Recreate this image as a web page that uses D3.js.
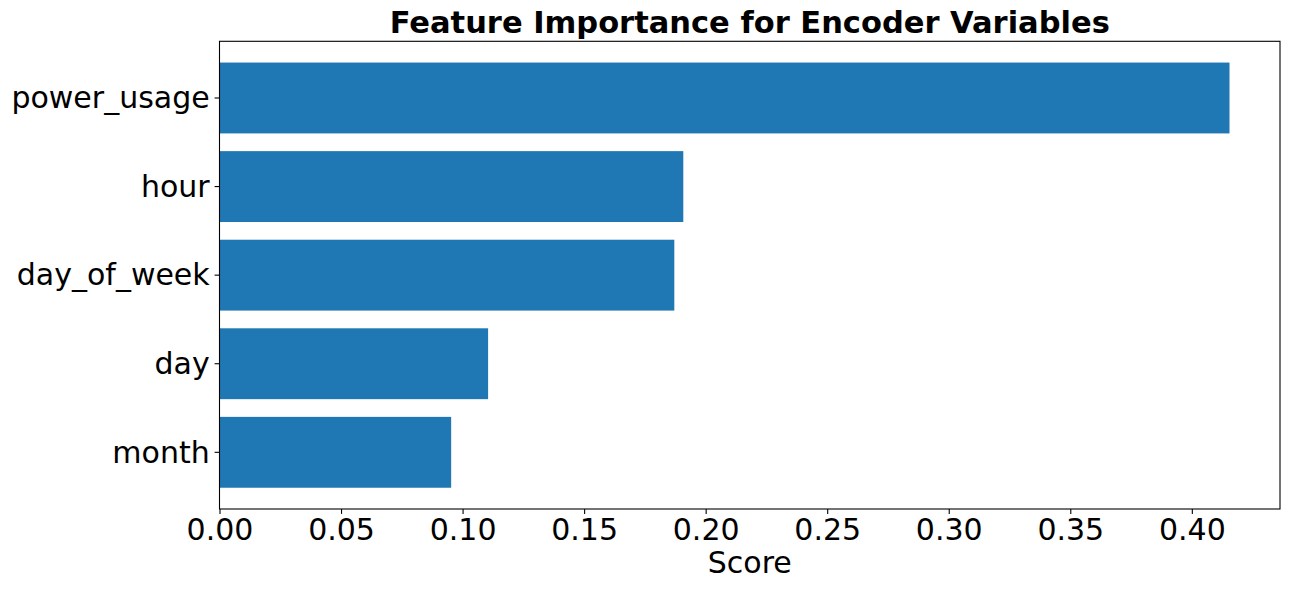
<!DOCTYPE html>
<html>
<head>
<meta charset="utf-8">
<script src="https://cdn.jsdelivr.net/npm/d3@7"></script>
<style>
  html, body { margin: 0; padding: 0; background: #fff; }
  text { font-family: "DejaVu Sans", sans-serif; fill: #000; }
</style>
</head>
<body>
<svg id="chart" width="1289" height="590"></svg>
<script>
const categories = ["power_usage", "hour", "day_of_week", "day", "month"];
const scores = [0.4155, 0.1908, 0.1871, 0.1105, 0.0953];
const xTicks = [0.00, 0.05, 0.10, 0.15, 0.20, 0.25, 0.30, 0.35, 0.40];
const titleText = "Feature Importance for Encoder Variables";
const xLabel = "Score";

const W = 1289, H = 590;
const margin = { left: 219.5, right: 9, top: 41.3, bottom: 81 };
const svg = d3.select("#chart");

const xMax = d3.max(scores) * 1.05;
const x = d3.scaleLinear().domain([0, xMax]).range([margin.left, W - margin.right]);
const y = d3.scaleBand().domain(categories)
  .range([margin.top, H - margin.bottom])
  .paddingInner(0.2).paddingOuter(0.24);

// bars
svg.append("g").selectAll("rect")
  .data(categories)
  .join("rect")
  .attr("x", x(0))
  .attr("y", d => y(d))
  .attr("width", (d, i) => x(scores[i]) - x(0))
  .attr("height", y.bandwidth())
  .attr("fill", "#1f77b4");

// x axis
const xAxis = svg.append("g")
  .attr("transform", `translate(0,${H - margin.bottom})`)
  .call(d3.axisBottom(x).tickValues(xTicks).tickFormat(d3.format(".2f")).tickSize(4.9).tickPadding(4.9));
xAxis.select(".domain").remove();
xAxis.selectAll("line").attr("stroke", "#000").attr("stroke-width", 1.1);
xAxis.selectAll("text").attr("font-size", 30).attr("font-family", "DejaVu Sans").attr("fill", "#000");

// y axis
const yAxis = svg.append("g")
  .attr("transform", `translate(${margin.left},0)`)
  .call(d3.axisLeft(y).tickSize(4.9).tickPadding(4.9));
yAxis.select(".domain").remove();
yAxis.selectAll("line").attr("stroke", "#000").attr("stroke-width", 1.1);
yAxis.selectAll("text").attr("font-size", 30).attr("font-family", "DejaVu Sans").attr("fill", "#000").attr("dy", "0.34em");

// frame
svg.append("rect")
  .attr("x", margin.left).attr("y", margin.top)
  .attr("width", W - margin.right - margin.left)
  .attr("height", H - margin.bottom - margin.top)
  .attr("fill", "none").attr("stroke", "#000").attr("stroke-width", 1.1);

// title
svg.append("text")
  .attr("x", (margin.left + W - margin.right) / 2)
  .attr("y", 33)
  .attr("text-anchor", "middle")
  .attr("font-size", 30.5)
  .attr("font-weight", "bold")
  .text(titleText);

// x label
svg.append("text")
  .attr("x", (margin.left + W - margin.right) / 2)
  .attr("y", 573)
  .attr("text-anchor", "middle")
  .attr("font-size", 30)
  .text(xLabel);
</script>
</body>
</html>
